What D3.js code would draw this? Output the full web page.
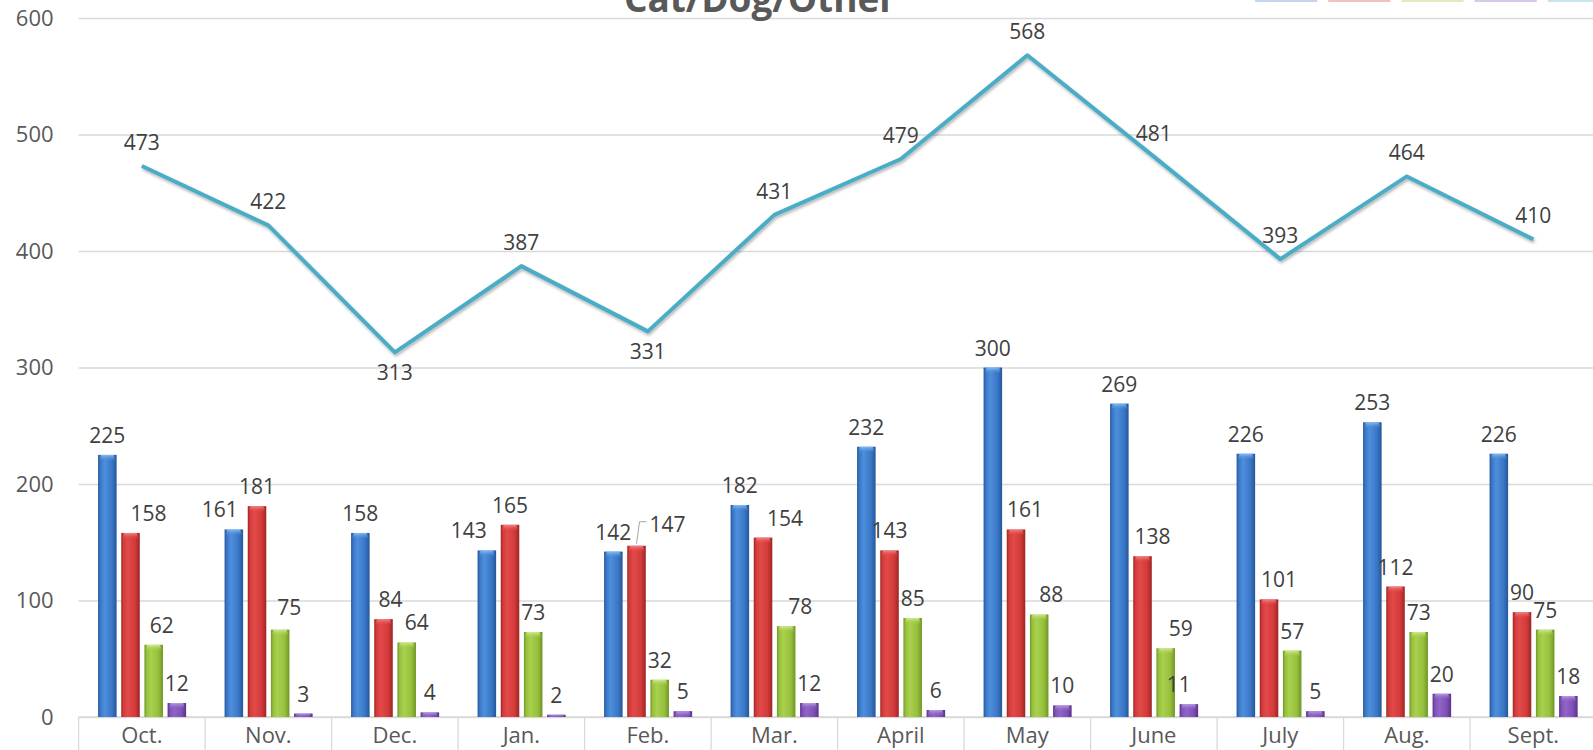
<!DOCTYPE html>
<html>
<head>
<meta charset="utf-8">
<script src="https://cdn.jsdelivr.net/npm/d3@7"></script>
<style>
  body { margin: 0; background: #fff; overflow: hidden; }
  svg { display: block; font-family: "Open Sans", sans-serif; }
</style>
</head>
<body>
<div id="chart"></div>
<script>
const months = ["Oct.", "Nov.", "Dec.", "Jan.", "Feb.", "Mar.", "April", "May", "June", "July", "Aug.", "Sept."];
const seriesNames = ["Cat", "Dog", "Other", "Unknown"];
const cat = [225, 161, 158, 143, 142, 182, 232, 300, 269, 226, 253, 226];
const dog = [158, 181, 84, 165, 147, 154, 143, 161, 138, 101, 112, 90];
const other = [62, 75, 64, 73, 32, 78, 85, 88, 59, 57, 73, 75];
const unknown = [12, 3, 4, 2, 5, 12, 6, 10, 11, 5, 20, 18];
const total = [473, 422, 313, 387, 331, 431, 479, 568, 481, 393, 464, 410];
const yTicks = [0, 100, 200, 300, 400, 500, 600];

// labels that were dragged by hand in the original chart (dx, dy in px)
const labelNudge = {
    "Cat|Nov.": [-14, 0], "Cat|Jan.": [-18, 0],
    "Dog|Oct.": [18, 0], "Dog|Dec.": [7, 0], "Dog|Feb.": [31, -2], "Dog|Mar.": [22, 0],
    "Dog|May": [9, 0], "Dog|June": [10, 0], "Dog|July": [10, 0],
    "Other|Oct.": [8, 0], "Other|Nov.": [9, -3], "Other|Dec.": [10, 0], "Other|Mar.": [14, 0],
    "Other|May": [12, 0], "Other|June": [15, 0],
    "Unknown|June": [-10, 0]
};
const leaderLines = ["Dog|Feb."];
const totalBelow = ["Dec.", "Feb."];

const seriesValues = { Cat: cat, Dog: dog, Other: other, Unknown: unknown };
const colors = {
    Cat: { light: "#4d8fdc", mid: "#3a77c6", dark: "#24569a", top: "#8cc0f4" },
    Dog: { light: "#e24a4a", mid: "#d33a3a", dark: "#9e2424", top: "#f48a8a" },
    Other: { light: "#a9d04e", mid: "#96c03c", dark: "#6f9626", top: "#d4ec96" },
    Unknown: { light: "#9064c8", mid: "#7d51b6", dark: "#583388", top: "#bb9ee8" }
};
const lineColor = "#4bacc6";

const width = 1593, height = 750;

const svg = d3.select("#chart").append("svg")
    .attr("width", width)
    .attr("height", height);

const defs = svg.append("defs");
seriesNames.forEach(s => {
    const c = colors[s];
    const g = defs.append("linearGradient").attr("id", "grad-" + s)
        .attr("x1", "0").attr("x2", "1").attr("y1", "0").attr("y2", "0");
    g.append("stop").attr("offset", "0%").attr("stop-color", c.dark);
    g.append("stop").attr("offset", "12%").attr("stop-color", c.mid);
    g.append("stop").attr("offset", "35%").attr("stop-color", c.light);
    g.append("stop").attr("offset", "75%").attr("stop-color", c.mid);
    g.append("stop").attr("offset", "100%").attr("stop-color", c.dark);

    const t = defs.append("linearGradient").attr("id", "cap-" + s)
        .attr("x1", "0").attr("x2", "0").attr("y1", "0").attr("y2", "1");
    t.append("stop").attr("offset", "0%").attr("stop-color", c.top).attr("stop-opacity", 0.95);
    t.append("stop").attr("offset", "100%").attr("stop-color", c.light).attr("stop-opacity", 0);
});
const shadow = defs.append("filter").attr("id", "lineShadow")
    .attr("x", "-5%").attr("y", "-10%").attr("width", "110%").attr("height", "130%");
shadow.append("feDropShadow").attr("dx", 1).attr("dy", 2).attr("stdDeviation", 1.5)
    .attr("flood-color", "#000").attr("flood-opacity", 0.3);

const x = d3.scaleBand().domain(months).range([78.6, 1596.6]);
const x1 = d3.scaleBand().domain(seriesNames)
    .range([x.bandwidth() * 0.154, x.bandwidth() * 0.85])
    .paddingInner(0.2);
const y = d3.scaleLinear().domain([0, 600]).range([717, 18]);

// gridlines
svg.append("g")
    .attr("transform", "translate(78.6,0)")
    .call(d3.axisLeft(y).tickValues(yTicks).tickSize(-(width - 78.6)).tickFormat(""))
    .call(g => g.select(".domain").remove())
    .call(g => g.selectAll("line").attr("stroke", "#d9d9d9").attr("stroke-width", 1.3));

// y tick labels
svg.append("g")
    .attr("transform", "translate(78.6,0)")
    .call(d3.axisLeft(y).tickValues(yTicks).tickSize(0).tickPadding(25))
    .call(g => g.select(".domain").remove())
    .call(g => g.selectAll("text").attr("fill", "#595959")
        .style("font-size", "22px").style("font-family", "'Open Sans', sans-serif"));

// x axis
svg.append("g")
    .attr("transform", "translate(0,717)")
    .call(d3.axisBottom(x).tickSize(0).tickPadding(10))
    .call(g => g.select(".domain").remove())
    .call(g => g.selectAll("text").attr("fill", "#595959")
        .style("font-size", "22px").style("font-family", "'Open Sans', sans-serif"));

svg.append("g").selectAll("line")
    .data(months.map(m => x(m)).concat([x(months[months.length - 1]) + x.bandwidth()]))
    .enter().append("line")
    .attr("x1", d => d).attr("x2", d => d)
    .attr("y1", 717).attr("y2", height)
    .attr("stroke", "#d9d9d9").attr("stroke-width", 1.3);

svg.append("line")
    .attr("x1", 78.6).attr("x2", width)
    .attr("y1", y(0)).attr("y2", y(0))
    .attr("stroke", "#d9d9d9").attr("stroke-width", 1.5);

// bars
const barData = [];
seriesNames.forEach(s => {
    seriesValues[s].forEach((v, i) => barData.push({ series: s, month: months[i], value: v }));
});

const bars = svg.append("g");
bars.selectAll("rect.bar").data(barData).enter().append("rect")
    .attr("class", "bar")
    .attr("x", d => x(d.month) + x1(d.series))
    .attr("y", d => y(d.value))
    .attr("width", x1.bandwidth())
    .attr("height", d => y(0) - y(d.value))
    .attr("fill", d => `url(#grad-${d.series})`);

bars.selectAll("path.cap").data(barData).enter().append("path")
    .attr("class", "cap")
    .attr("d", d => {
        const x0 = x(d.month) + x1(d.series), w = x1.bandwidth(), t = y(d.value);
        const h = Math.min(6, y(0) - y(d.value));
        return `M${x0 + 1},${t + h}L${x0 + 3},${t}L${x0 + w - 3},${t}L${x0 + w - 1},${t + h}Z`;
    })
    .attr("fill", d => `url(#cap-${d.series})`);

// bar labels
const labelPos = d => {
    const n = labelNudge[d.series + "|" + d.month] || [0, 0];
    return {
        x: x(d.month) + x1(d.series) + x1.bandwidth() / 2 + n[0],
        y: y(d.value) - 12 + n[1]
    };
};

svg.append("g").selectAll("path")
    .data(barData.filter(d => leaderLines.includes(d.series + "|" + d.month)))
    .enter().append("path")
    .attr("d", d => {
        const cx = x(d.month) + x1(d.series) + x1.bandwidth() / 2;
        const p = labelPos(d);
        return `M${cx},${y(d.value) - 2}L${cx + 3},${p.y - 10}L${p.x - 21},${p.y - 10}`;
    })
    .attr("fill", "none").attr("stroke", "#a6a6a6").attr("stroke-width", 1);

svg.append("g").selectAll("text").data(barData).enter().append("text")
    .attr("x", d => labelPos(d).x)
    .attr("y", d => labelPos(d).y)
    .attr("text-anchor", "middle")
    .attr("fill", "#404040")
    .style("font-size", "21px")
    .text(d => d.value);

// total line
const line = d3.line()
    .x((d, i) => x(months[i]) + x.bandwidth() / 2)
    .y(d => y(d));

svg.append("path")
    .datum(total)
    .attr("d", line)
    .attr("fill", "none")
    .attr("stroke", lineColor)
    .attr("stroke-width", 4)
    .attr("stroke-linejoin", "round")
    .attr("filter", "url(#lineShadow)");

svg.append("g").selectAll("text").data(total).enter().append("text")
    .attr("x", (d, i) => x(months[i]) + x.bandwidth() / 2)
    .attr("y", (d, i) => totalBelow.includes(months[i]) ? y(d) + 28 : y(d) - 16)
    .attr("text-anchor", "middle")
    .attr("fill", "#404040")
    .style("font-size", "21px")
    .text(d => d);

// title (its upper half lies above the picture, as in the original)
svg.append("text")
    .attr("x", 760)
    .attr("y", 12)
    .attr("text-anchor", "middle")
    .attr("fill", "#595959")
    .style("font-size", "37px")
    .style("font-weight", "bold")
    .text("Cat/Dog/Other");

// legend (only its lower edge is visible)
const legendNames = seriesNames.concat(["Total"]);
const legendColors = legendNames.map(n => n === "Total" ? lineColor : colors[n].mid);
const lx = d3.scaleBand().domain(legendNames).range([1255, 1610]).paddingInner(0.15);
const legend = svg.append("g").attr("opacity", 0.3);
legend.selectAll("rect").data(legendNames).enter().append("rect")
    .attr("x", d => lx(d))
    .attr("y", -12)
    .attr("width", lx.bandwidth())
    .attr("height", 14)
    .attr("fill", (d, i) => legendColors[i]);
</script>
</body>
</html>
